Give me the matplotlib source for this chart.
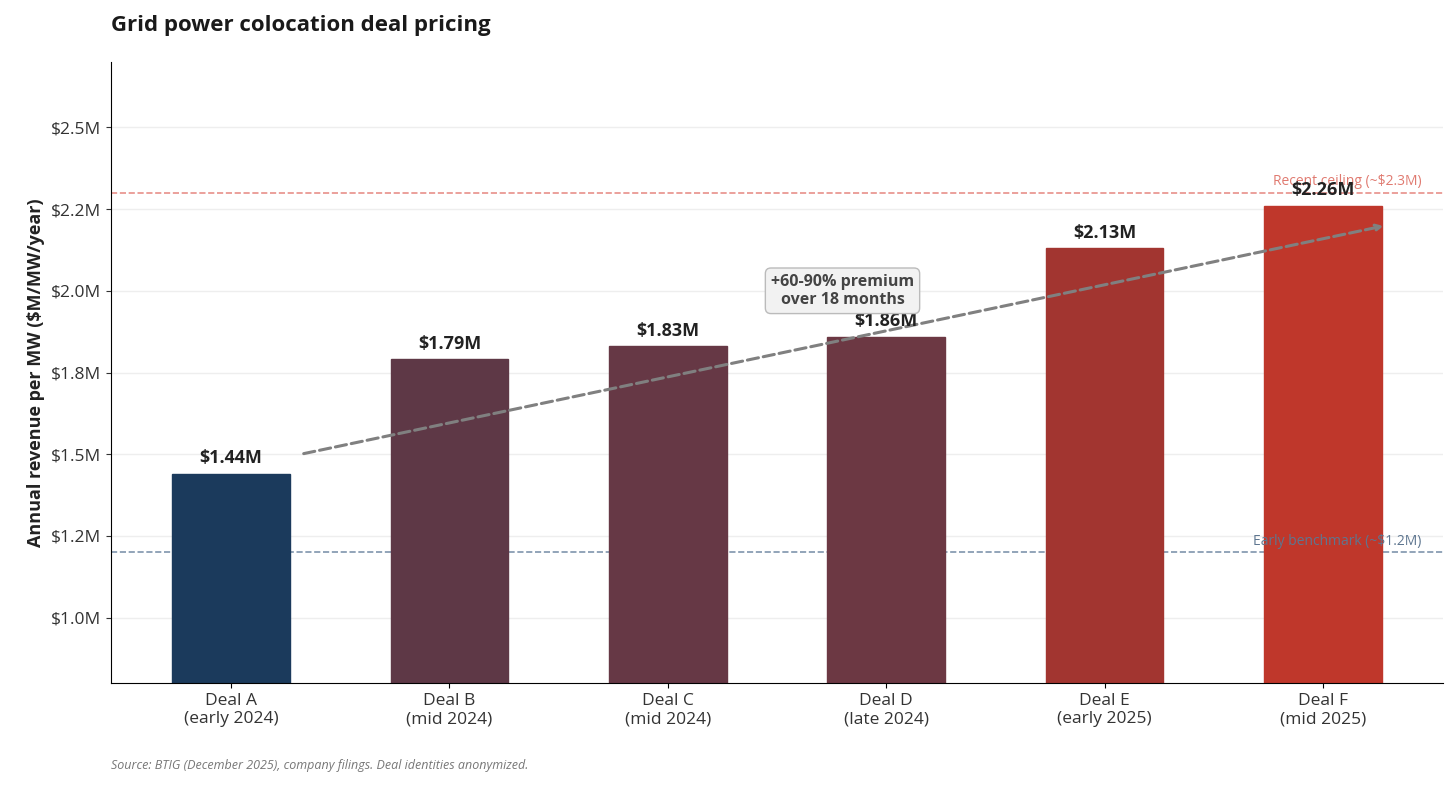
import matplotlib.pyplot as plt
from matplotlib.ticker import FuncFormatter

plt.rcParams['font.family'] = ['Open Sans', 'DejaVu Sans']

deals = ["Deal A\n(early 2024)", "Deal B\n(mid 2024)", "Deal C\n(mid 2024)",
         "Deal D\n(late 2024)", "Deal E\n(early 2025)", "Deal F\n(mid 2025)"]
values = [1.44, 1.79, 1.83, 1.86, 2.13, 2.26]
colors = ["#1b3a5c", "#5e3846", "#663845", "#6c3843", "#a23530", "#bf372b"]
early_benchmark = 1.2
recent_ceiling = 2.3
trend_start = (0.32, 1.5)
trend_end = (5.29, 2.2)

fig = plt.figure(figsize=(14.56, 7.87), dpi=100)
ax = fig.add_axes([111/1456, 1 - 683/787, 1332/1456, 621/787])

x = list(range(len(deals)))
ax.bar(x, values, width=0.54, color=colors, edgecolor=colors, zorder=2)
for xi, v in zip(x, values):
    ax.text(xi, v + 0.02, f"${v:.2f}M", ha='center', va='bottom',
            fontsize=13, fontweight='bold', color='#222222', zorder=4)

ax.axhline(early_benchmark, color='#7f95ad', linestyle='--', linewidth=1.2, zorder=1)
ax.axhline(recent_ceiling, color='#e8908a', linestyle='--', linewidth=1.2, zorder=1)
ax.text(5.45, early_benchmark + 0.01, "Early benchmark (~$1.2M)", ha='right', va='bottom',
        fontsize=10, color='#5e7690')
ax.text(5.45, recent_ceiling + 0.01, "Recent ceiling (~$2.3M)", ha='right', va='bottom',
        fontsize=10, color='#e07a70')

ax.annotate("", xy=trend_end, xytext=trend_start,
            arrowprops=dict(arrowstyle='->', color='#808080', lw=2.2, linestyle='--'), zorder=3)
ax.text(2.8, 2.0, "+60-90% premium\nover 18 months", ha='center', va='center',
        fontsize=11.5, fontweight='bold', color='#444444', zorder=5,
        bbox=dict(boxstyle='round,pad=0.35', facecolor='#f2f2f2', edgecolor='#bbbbbb'))

ax.set_xlim(-0.55, 5.55)
ax.set_ylim(0.8, 2.7)
ax.set_yticks([1.0, 1.25, 1.5, 1.75, 2.0, 2.25, 2.5])
ax.yaxis.set_major_formatter(FuncFormatter(lambda v, p: f"${v:.1f}M"))
ax.set_xticks(x)
ax.set_xticklabels(deals, fontsize=12.5, color='#333333')
ax.tick_params(axis='y', labelsize=12.5, colors='#333333')
ax.grid(axis='y', color='#eeeeee', linewidth=1, zorder=0)
ax.spines['top'].set_visible(False)
ax.spines['right'].set_visible(False)
ax.set_ylabel("Annual revenue per MW ($M/MW/year)", fontsize=13, fontweight='bold', color='#222222')

fig.text(111/1456, 1 - 25/787, "Grid power colocation deal pricing", fontsize=16,
         fontweight='bold', color='#1a1a1a', va='center')
fig.text(111/1456, 1 - 766/787, "Source: BTIG (December 2025), company filings. Deal identities anonymized.",
         fontsize=9, style='italic', color='#777777', va='center')

fig.savefig("out.png", dpi=100)
